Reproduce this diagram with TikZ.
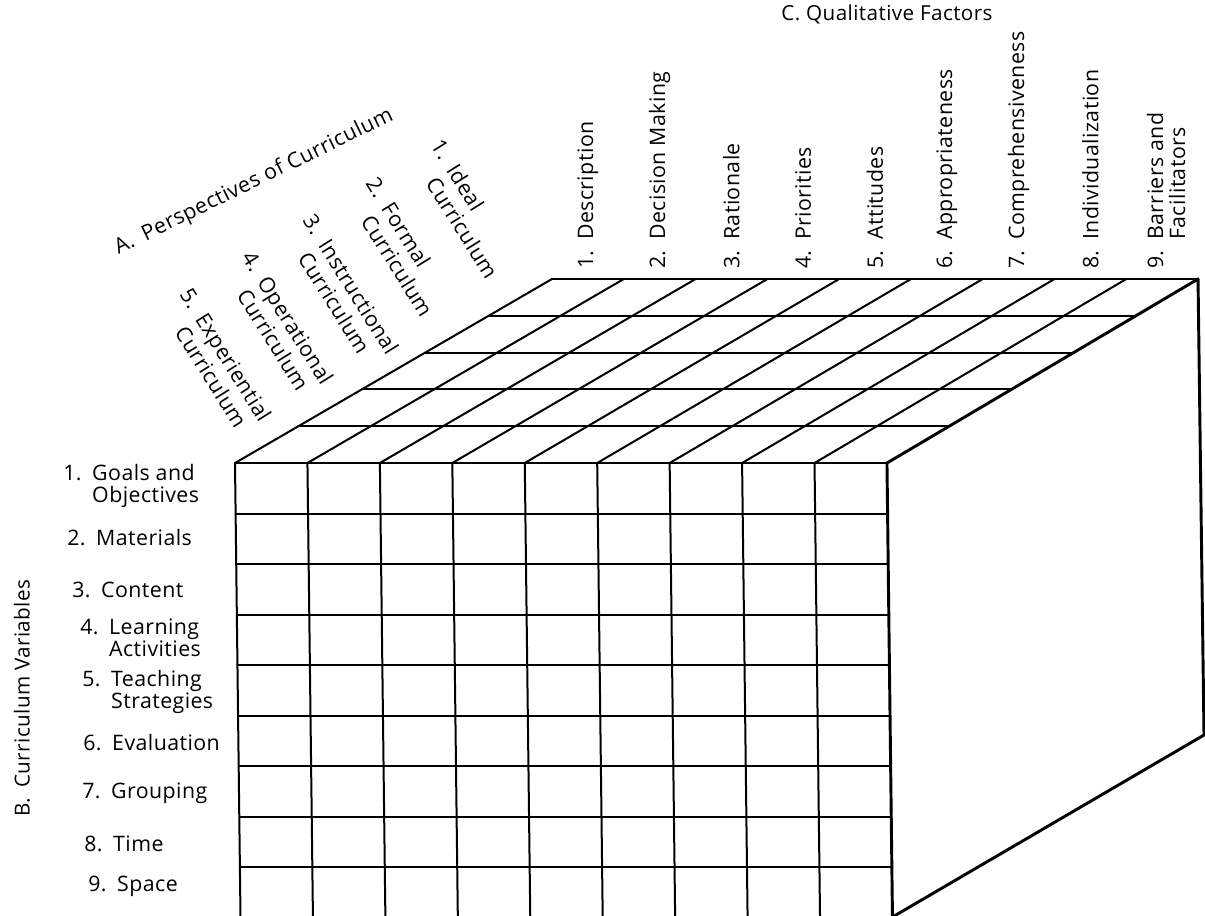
\documentclass[tikz,border=0pt]{standalone}
\usepackage{fontspec}
\setmainfont{Open Sans}[LetterSpace=2.0]
\newcommand{\lblfont}{\fontsize{16}{16.5}\selectfont}
\newcommand{\ttlfont}{\fontsize{15.5}{16.5}\selectfont}
\newcommand{\perfont}{\fontsize{16}{18}\selectfont}
\begin{document}
\begin{tikzpicture}[x=0.75pt,y=-0.75pt,
  gridline/.style={line width=1.5pt, line cap=round},
  edgeline/.style={line width=2.2pt, line cap=round, line join=round},
  lab/.style={font=\lblfont, inner sep=0pt, text=black},
  ttl/.style={font=\ttlfont, inner sep=0pt, text=black},
  per/.style={font=\perfont, inner sep=0pt, text=black, rotate=-58, anchor=north west, align=left}]
\useasboundingbox (0,0) rectangle (1205,915);
\clip (0,0) rectangle (1205,915);
% ---------- front face ----------
\foreach \i in {0,...,9}{
  \coordinate (ft\i) at ({235+72.44*\i},463);
  \coordinate (fb\i) at ({240.5+72.44*\i},917);
  \coordinate (bk\i) at ({552+71.78*\i},279);
}
\foreach \i in {0,...,8}{
  \draw[gridline] (ft\i) -- (fb\i);
}
\foreach \r in {0,...,8}{
  \pgfmathsetmacro{\yy}{463+50.5*\r}
  \pgfmathsetmacro{\sh}{5.5*(\yy-463)/454}
  \draw[gridline] ({235+\sh},\yy) -- ({887+\sh},\yy);
}
% ---------- top face ----------
\foreach \k in {1,...,5}{
  \draw[gridline] ({235+63.4*\k},{463-36.8*\k}) -- ({887+62.2*\k},{463-36.8*\k});
}
\foreach \i in {0,...,8}{
  \draw[gridline] (ft\i) -- (bk\i);
}
% ---------- side face ----------
\coordinate (sb) at (1204,735);
\draw[edgeline] (fb9) -- (ft9) -- (bk9) -- (sb) -- (fb9);
% ---------- titles ----------
\node[ttl] (ctitle) at (887,14) {C.\ Qualitative Factors};
\node[ttl, rotate=90] (btitle) at (22,698) {B.\enspace Curriculum Variables};
\node[lab, rotate=26] (atitle) at (254,182) {A.\enspace Perspectives of Curriculum};
% ---------- C labels ----------
\foreach \i/\t in {1/Description,2/Decision Making,3/Rationale,4/Priorities,5/Attitudes,6/Appropriateness,7/Comprehensiveness,8/Individualization}{
  \node[lab, rotate=90, anchor=west] (c\i) at ({552+71.78*(\i-0.5)},269) {\i.\enspace\t};
}
\node[lab, rotate=90, anchor=west, align=left] (c9) at (1166,269) {9.\enspace Barriers and\\\hphantom{9.\enspace}Facilitators};
% ---------- B labels ----------
\node[lab, anchor=west, align=left] (b1) at (63,486) {1.\enspace Goals and\\\hphantom{1.\enspace}Objectives};
\node[lab, anchor=west] (b2) at (67,538) {2.\enspace Materials};
\node[lab, anchor=west] (b3) at (72,590) {3.\enspace Content};
\node[lab, anchor=west, align=left] (b4) at (80,638) {4.\enspace Learning\\\hphantom{4.\enspace}Activities};
\node[lab, anchor=west, align=left] (b5) at (82,692) {5.\enspace Teaching\\\hphantom{5.\enspace}Strategies};
\node[lab, anchor=west] (b6) at (83,743) {6.\enspace Evaluation};
\node[lab, anchor=west] (b7) at (82,793) {7.\enspace Grouping};
\node[lab, anchor=west] (b8) at (84,844) {8.\enspace Time};
\node[lab, anchor=west] (b9) at (88,886) {9.\enspace Space};
% ---------- A labels ----------
\node[per] (a1) at (444,137) {1.\enspace Ideal\\\hphantom{1.\enspace}Curriculum};
\node[per] (a2) at (379,175) {2.\enspace Formal\\\hphantom{2.\enspace}Curriculum};
\node[per] (a3) at (316,212) {3.\enspace Instructional\\\hphantom{3.\enspace}Curriculum};
\node[per] (a4) at (255,249) {4.\enspace Operational\\\hphantom{4.\enspace}Curriculum};
\node[per] (a5) at (193,286) {5.\enspace Experiential\\\hphantom{5.\enspace}Curriculum};
\end{tikzpicture}
\end{document}
